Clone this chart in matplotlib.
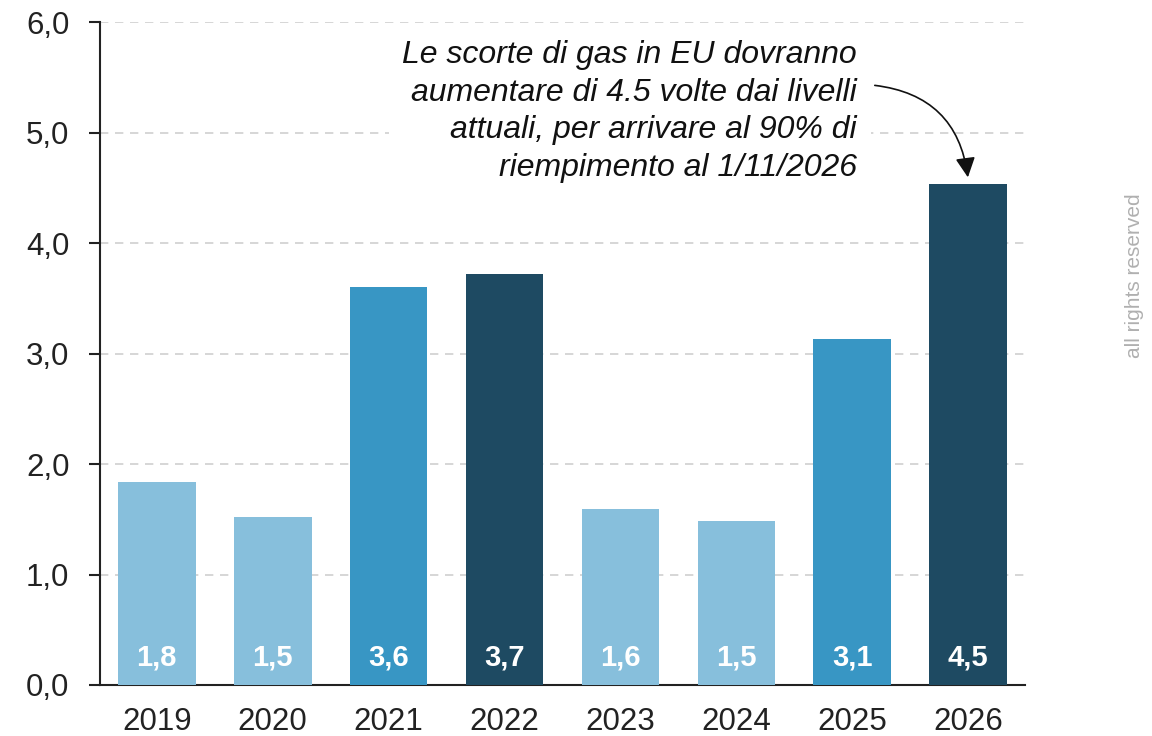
import matplotlib.pyplot as plt

plt.rcParams['font.family'] = ['Liberation Sans', 'DejaVu Sans']

# data
years = ['2019', '2020', '2021', '2022', '2023', '2024', '2025', '2026']
values = [1.84, 1.52, 3.60, 3.72, 1.59, 1.48, 3.13, 4.53]
shades = ['light', 'light', 'mid', 'dark', 'light', 'light', 'mid', 'dark']
yticks = [0, 1, 2, 3, 4, 5, 6]

palette = {'light': '#87bfdc', 'mid': '#3896c4', 'dark': '#1e4a62'}

fig = plt.figure(figsize=(11.52, 7.36), dpi=100)
ax = fig.add_axes([0.0868, 0.0693, 0.8030, 0.9007])

xs = range(len(years))
bars = ax.bar(xs, values, width=0.67, color=[palette[s] for s in shades], zorder=3)

for x, v in zip(xs, values):                       # value labels inside bars, near the base
    ax.text(x, 0.25, f'{v:.1f}'.replace('.', ','), ha='center', va='center',
            color='white', fontsize=21, fontweight='bold', zorder=4)

ax.set_xlim(-0.49, 7.49)
ax.set_ylim(0, 6)
ax.set_xticks(list(xs))
ax.set_xticklabels(years, fontsize=22.5, color='#222222')
ax.set_yticks(yticks)
ax.set_yticklabels([f'{t:.1f}'.replace('.', ',') for t in yticks], fontsize=22.5, color='#222222')
ax.tick_params(axis='x', length=0, pad=16)
ax.tick_params(axis='y', length=8, width=1.5, color='#222222', pad=14)

ax.yaxis.grid(True, linestyle=(0, (5, 4)), color='#d0d0d0', linewidth=1.2, zorder=0)
ax.spines['top'].set_visible(False)
ax.spines['right'].set_visible(False)
ax.spines['left'].set_linewidth(1.5)
ax.spines['bottom'].set_linewidth(1.5)
ax.spines['left'].set_color('#222222')
ax.spines['bottom'].set_color('#222222')

ax.annotate('', xy=(7, values[7] + 0.04), xytext=(6.17, 5.43),
            arrowprops=dict(arrowstyle='-|>', color='#111111', lw=1.2,
                            mutation_scale=30,
                            connectionstyle='arc3,rad=-0.4'))
ax.text(6.04, 5.84, 'Le scorte di gas in EU dovranno\naumentare di 4.5 volte dai livelli\n'
        'attuali, per arrivare al 90% di\nriempimento al 1/11/2026',
        ha='right', va='top', fontsize=23, style='italic', color='#111111',
        linespacing=1.34, zorder=5,
        bbox=dict(facecolor='white', edgecolor='none', pad=10))

fig.text(0.985, 0.625, 'all rights reserved', rotation=90, ha='center', va='center',
         fontsize=15, color='#b0b0b0')

fig.savefig('out.png', dpi=100)
